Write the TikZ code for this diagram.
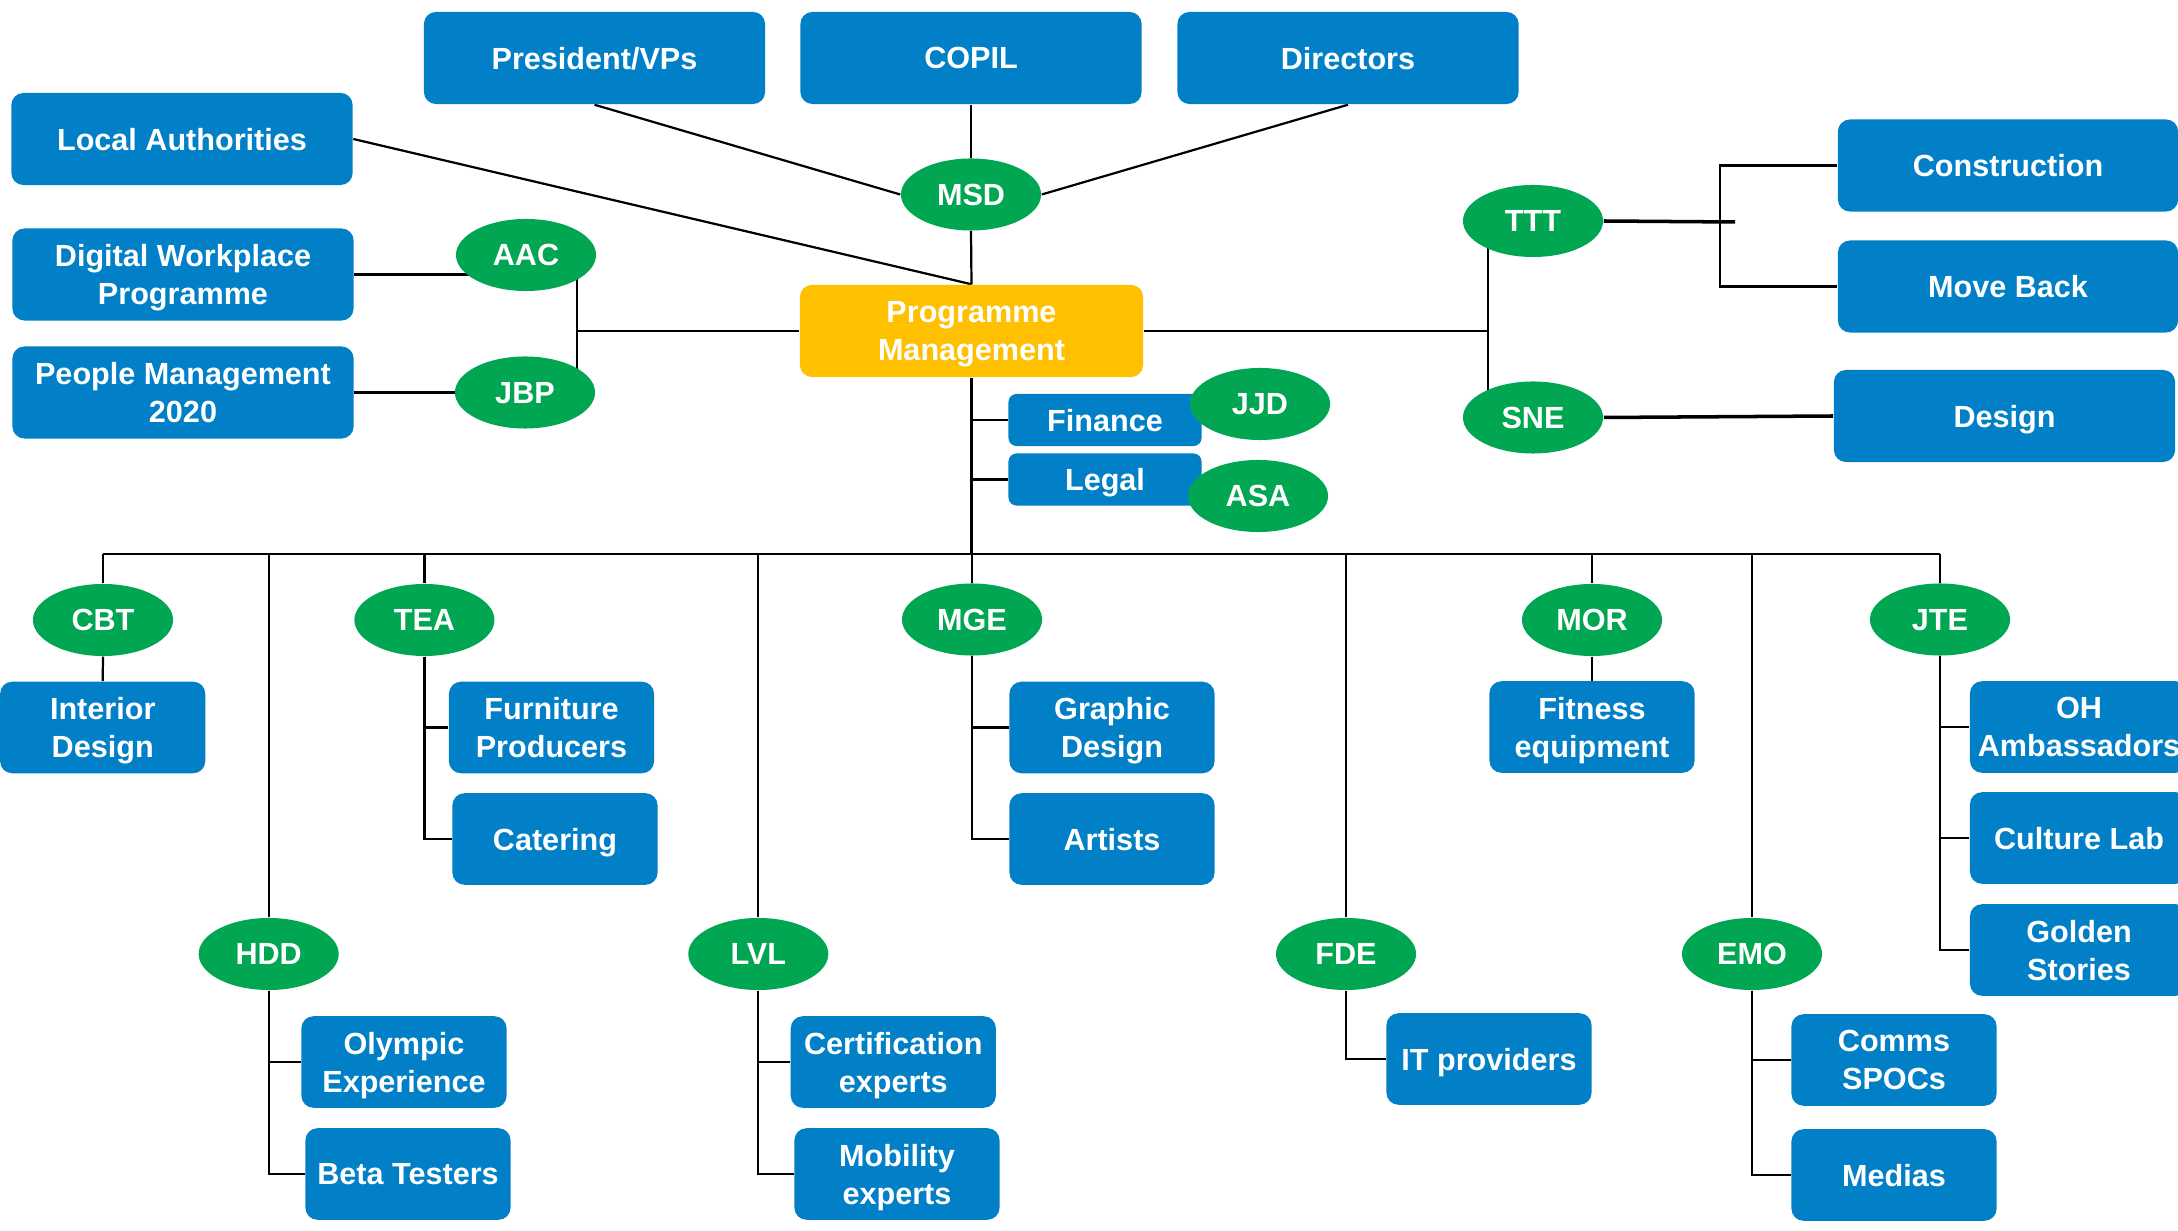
\documentclass[tikz,border=0pt]{standalone}
\usepackage{fontspec}
\setmainfont{Liberation Sans}
\usetikzlibrary{shapes.geometric,backgrounds}
\definecolor{boxblue}{RGB}{2,128,199}
\definecolor{ovalgreen}{RGB}{0,166,81}
\definecolor{pmyellow}{RGB}{255,192,0}
\tikzset{
  lbl/.style={text=white,font=\fontsize{8.7}{10.8}\selectfont\bfseries,align=center,inner sep=0pt,text depth=0pt},
  bigbox/.style={lbl,fill=boxblue,rounded corners=0.12cm,minimum width=3.41cm,minimum height=0.92cm},
  midbox/.style={lbl,fill=boxblue,rounded corners=0.12cm,minimum width=2.05cm,minimum height=0.915cm},
  smallbox/.style={lbl,fill=boxblue,rounded corners=0.08cm,minimum width=1.93cm,minimum height=0.52cm},
  oval/.style={lbl,ellipse,fill=ovalgreen,minimum width=1.40cm,minimum height=0.72cm},
  link/.style={draw=black,line width=0.63pt},
  heavylink/.style={draw=black,line width=1pt}
}
\begin{document}
\begin{tikzpicture}[x=0.01cm,y=-0.01cm]
\clip (0,0) rectangle (2178,1231);

% top management row
\node[bigbox] (pres)  at (594.5,58) {President/VPs};
\node[bigbox] (copil) at (971,58)   {COPIL};
\node[bigbox] (dir)   at (1348,58)  {Directors};
\node[oval]   (msd)   at (971,194.5) {MSD};

% left side
\node[bigbox] (local) at (182,139)   {Local Authorities};
\node[bigbox] (dwp)   at (183,274.5) {Digital Workplace\\Programme};
\node[bigbox] (pmg)   at (183,392.5) {People Management\\2020};
\node[oval]   (aac)   at (526,255)   {AAC};
\node[oval]   (jbp)   at (525,392.5) {JBP};

% centre
\node[bigbox,fill=pmyellow,minimum width=3.43cm] (pm) at (971.5,331) {Programme\\Management};
\node[smallbox] (fin)   at (1105,420)   {Finance};
\node[smallbox] (legal) at (1105,479.5) {Legal};
\node[oval] (jjd) at (1260,404) {JJD};
\node[oval] (asa) at (1258,496) {ASA};

% right side
\node[oval] (ttt) at (1533,221)   {TTT};
\node[oval] (sne) at (1533,417.5) {SNE};
\node[bigbox,minimum width=3.40cm] (cons) at (2008,165.5) {Construction};
\node[bigbox,minimum width=3.40cm] (mb)   at (2008,286.5) {Move Back};
\node[bigbox] (des) at (2004.5,416) {Design};

% first row of teams
\node[oval]   (cbt)  at (103,620)     {CBT};
\node[midbox] (intd) at (102.7,727.5) {Interior\\Design};
\node[oval]   (tea)  at (424.4,620)   {TEA};
\node[midbox] (furn) at (551.5,727.5) {Furniture\\Producers};
\node[midbox] (cat)  at (555,839)     {Catering};
\node[oval]   (mge)  at (972,619.5)   {MGE};
\node[midbox] (gd)   at (1112,727.5)  {Graphic\\Design};
\node[midbox] (art)  at (1112,839)    {Artists};
\node[oval]   (mor)  at (1592,620)    {MOR};
\node[midbox] (fit)  at (1592,727)    {Fitness\\equipment};
\node[oval]   (jte)  at (1940,619.5)  {JTE};
\node[midbox,minimum width=2.18cm] (oh) at (2079,727) {OH\\Ambassadors};
\node[midbox,minimum width=2.18cm] (cl) at (2079,838) {Culture Lab};
\node[midbox,minimum width=2.18cm] (gs) at (2079,950) {Golden\\Stories};

% second row of teams
\node[oval]   (hdd)   at (268.7,954) {HDD};
\node[midbox] (oly)   at (404,1062)  {Olympic\\Experience};
\node[midbox] (beta)  at (408,1174)  {Beta Testers};
\node[oval]   (lvl)   at (758.3,954) {LVL};
\node[midbox] (cert)  at (893.3,1062) {Certification\\experts};
\node[midbox] (mob)   at (897,1174)  {Mobility\\experts};
\node[oval]   (fde)   at (1346,954)  {FDE};
\node[midbox] (itp)   at (1489,1059) {IT providers};
\node[oval]   (emo)   at (1752,954)  {EMO};
\node[midbox] (comms) at (1894,1060) {Comms\\SPOCs};
\node[midbox] (med)   at (1894,1175) {Medias};

% junction points
\coordinate (lj)   at (577,331);
\coordinate (rj)   at (1488,331);
\coordinate (tj)   at (1720,221);
\coordinate (tend) at (1735,222);
\coordinate (bus)  at (971.5,554);
\coordinate (busL) at (103,554);
\coordinate (busR) at (1940,554);

\begin{pgfonlayer}{background}
  \fill[white] (0,0) rectangle (2178,1231);
  % governance
  \draw[link] (pres.south) -- (msd.west);
  \draw[link] (copil.south) -- (msd.north);
  \draw[link] (dir.south) -- (msd.east);
  \draw[link] (msd.south) -- (pm.north);
  \draw[link] (local.east) -- (pm.north);
  % left branch
  \draw[link] (pm.west) -- (lj);
  \draw[link] (lj |- aac) -- (lj |- jbp);
  \draw[link] (dwp.east) -- (dwp.east -| aac);
  \draw[link] (pmg.east) -- (pmg.east -| jbp);
  % right branch
  \draw[link] (pm.east) -- (rj);
  \draw[link] (rj |- ttt) -- (rj |- sne);
  \draw[heavylink] (ttt.east) -- (tend);
  \draw[link] (cons.west) -| (tj) |- (mb.west);
  \draw[heavylink] (sne.east) -- (des.west);
  % support functions
  \draw[link] (pm.south) -- (bus);
  \draw[link] (pm.south |- fin.west) -- (fin.west);
  \draw[link] (pm.south |- legal.west) -- (legal.west);
  % team bus
  \draw[link] (busL) -- (busR);
  \draw[link] (cbt |- bus) -- (cbt);
  \draw[link] (hdd |- bus) -- (hdd);
  \draw[link] (tea |- bus) -- (tea);
  \draw[link] (lvl |- bus) -- (lvl);
  \draw[link] (mge |- bus) -- (mge);
  \draw[link] (fde |- bus) -- (fde);
  \draw[link] (mor |- bus) -- (mor);
  \draw[link] (emo |- bus) -- (emo);
  \draw[link] (jte |- bus) -- (jte);
  % teams to their members
  \draw[link] (cbt.south) -- (intd.north);
  \draw[link] (mor.south) -- (fit.north);
  \draw[link] (tea.south) |- (furn.west);
  \draw[link] (tea.south) |- (cat.west);
  \draw[link] (mge.south) |- (gd.west);
  \draw[link] (mge.south) |- (art.west);
  \draw[link] (jte.south) |- (oh.west);
  \draw[link] (jte.south) |- (cl.west);
  \draw[link] (jte.south) |- (gs.west);
  \draw[link] (hdd.south) |- (oly.west);
  \draw[link] (hdd.south) |- (beta.west);
  \draw[link] (lvl.south) |- (cert.west);
  \draw[link] (lvl.south) |- (mob.west);
  \draw[link] (fde.south) |- (itp.west);
  \draw[link] (emo.south) |- (comms.west);
  \draw[link] (emo.south) |- (med.west);
\end{pgfonlayer}
\end{tikzpicture}
\end{document}
